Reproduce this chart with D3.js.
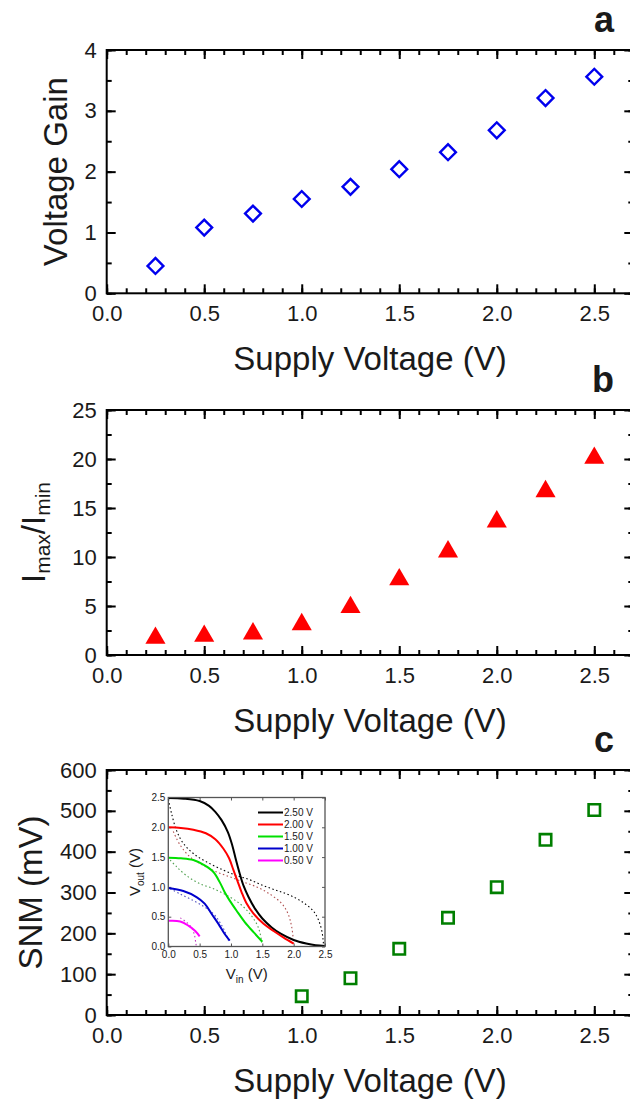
<!DOCTYPE html>
<html>
<head>
<meta charset="utf-8">
<script src="https://cdn.jsdelivr.net/npm/d3@7"></script>
<style>
body { margin: 0; background: #fff; }
text { font-family: "Liberation Sans", Arial, sans-serif; fill: #1a1a1a; }
</style>
</head>
<body>
<div id="chart"></div>
<script>
// supply voltage sweep (V)
var supplyV = [0.25, 0.5, 0.75, 1.0, 1.25, 1.5, 1.75, 2.0, 2.25, 2.5];
var voltageGain = [0.45, 1.08, 1.31, 1.55, 1.75, 2.04, 2.32, 2.68, 3.21, 3.56];
var currentRatio = [1.73, 1.94, 2.18, 3.12, 4.87, 7.7, 10.55, 13.6, 16.7, 20.1];
var snmSupply = [1.0, 1.25, 1.5, 1.75, 2.0, 2.25, 2.5];
var snm = [46, 90, 162, 238, 313, 429, 502];
var xTicks = [0, 0.5, 1.0, 1.5, 2.0, 2.5];

// inset: transfer curves [Vin, Vout] per supply
var vtcLabels = ["2.50 V", "2.00 V", "1.50 V", "1.00 V", "0.50 V"];
var vtc250 = [[0,2.49],[0.25,2.48],[0.5,2.44],[0.65,2.36],[0.75,2.26],[0.85,2.12],[0.95,1.92],[1.02,1.70],[1.08,1.45],[1.14,1.22],[1.2,1.02],[1.28,0.83],[1.38,0.64],[1.5,0.47],[1.65,0.32],[1.8,0.21],[2.0,0.11],[2.2,0.05],[2.35,0.02],[2.5,0.01]];
var vtc200 = [[0,2.0],[0.2,1.99],[0.4,1.96],[0.6,1.9],[0.75,1.8],[0.88,1.64],[0.97,1.48],[1.04,1.28],[1.1,1.11],[1.17,0.91],[1.25,0.72],[1.36,0.55],[1.52,0.38],[1.68,0.26],[1.84,0.15],[2.0,0.05]];
var vtc150 = [[0,1.49],[0.2,1.48],[0.4,1.45],[0.58,1.36],[0.72,1.25],[0.82,1.08],[0.9,0.91],[0.98,0.77],[1.09,0.6],[1.22,0.41],[1.36,0.24],[1.5,0.08]];
var vtc100 = [[0,0.98],[0.24,0.93],[0.45,0.83],[0.58,0.72],[0.69,0.55],[0.8,0.38],[0.9,0.21],[0.98,0.1]];
var vtc050 = [[0,0.43],[0.19,0.42],[0.32,0.35],[0.43,0.26],[0.5,0.17]];
// mirrored (dotted) curves
var mir250 = [[0,2.47],[0.05,2.24],[0.13,1.95],[0.24,1.73],[0.4,1.56],[0.61,1.42],[0.88,1.28],[1.09,1.19],[1.3,1.12],[1.52,1.02],[1.73,0.94],[1.94,0.86],[2.15,0.74],[2.31,0.6],[2.39,0.46],[2.45,0.26],[2.47,0.1],[2.48,0]];
var mir200 = [[0.08,1.93],[0.19,1.7],[0.35,1.5],[0.56,1.36],[0.77,1.25],[0.98,1.17],[1.2,1.08],[1.41,1.0],[1.62,0.88],[1.81,0.72],[1.91,0.55],[1.97,0.32],[2.0,0.05]];
var mir150 = [[0.03,1.45],[0.13,1.34],[0.29,1.19],[0.51,1.05],[0.72,0.97],[0.93,0.86],[1.14,0.72],[1.3,0.55],[1.41,0.38],[1.46,0.24],[1.49,0.07]];
var mir100 = [[0.03,0.97],[0.19,0.88],[0.4,0.77],[0.58,0.66],[0.72,0.55],[0.82,0.41],[0.9,0.26],[0.96,0.1]];
var mir050 = [[0.19,0.48],[0.3,0.4],[0.38,0.3],[0.42,0.18],[0.44,0.05],[0.45,0]];

var width = 630, height = 1101;
var svg = d3.select("#chart").append("svg")
    .attr("width", width)
    .attr("height", height);

var x = d3.scaleLinear().domain([0, 2.7]).range([106.7, 633.3]);

function range(a, b, s) {
  var out = [];
  for (var v = a; v <= b + 1e-9; v += s) out.push(+v.toFixed(4));
  return out;
}

function styleAxis(g) {
  g.select(".domain").remove();
  g.selectAll("line").attr("stroke", "#000").attr("stroke-width", 2);
  g.selectAll("text").attr("font-size", 22).attr("fill", "#1a1a1a")
    .style("font-family", "'Liberation Sans', Arial, sans-serif");
}

function panel(top, bottom, yMax, yStep, letter) {
  var y = d3.scaleLinear().domain([0, yMax]).range([bottom, top]);
  var g = svg.append("g");
  var fmtX = function(d) { return d.toFixed(1); };

  g.append("g").attr("transform", "translate(0," + bottom + ")")
    .call(d3.axisBottom(x).tickValues(range(0, 2.7, 0.1)).tickSize(-5).tickFormat(""))
    .call(styleAxis);
  g.append("g").attr("transform", "translate(0," + bottom + ")")
    .call(d3.axisBottom(x).tickValues(xTicks).tickSize(-9).tickPadding(12).tickFormat(fmtX))
    .call(styleAxis);
  g.append("g").attr("transform", "translate(0," + top + ")")
    .call(d3.axisTop(x).tickValues(range(0, 2.7, 0.1)).tickSize(-5).tickFormat(""))
    .call(styleAxis);
  g.append("g").attr("transform", "translate(0," + top + ")")
    .call(d3.axisTop(x).tickValues(xTicks).tickSize(-9).tickFormat(""))
    .call(styleAxis);

  g.append("g").attr("transform", "translate(" + x(0) + ",0)")
    .call(d3.axisLeft(y).tickValues(range(0, yMax, yStep / 2)).tickSize(-5).tickFormat(""))
    .call(styleAxis);
  g.append("g").attr("transform", "translate(" + x(0) + ",0)")
    .call(d3.axisLeft(y).tickValues(range(0, yMax, yStep)).tickSize(-9).tickPadding(10).tickFormat(d3.format("d")))
    .call(styleAxis);
  g.append("g").attr("transform", "translate(" + x(2.7) + ",0)")
    .call(d3.axisRight(y).tickValues(range(0, yMax, yStep / 2)).tickSize(-5).tickFormat(""))
    .call(styleAxis);
  g.append("g").attr("transform", "translate(" + x(2.7) + ",0)")
    .call(d3.axisRight(y).tickValues(range(0, yMax, yStep)).tickSize(-9).tickFormat(""))
    .call(styleAxis);

  g.append("rect")
    .attr("x", x(0)).attr("y", top)
    .attr("width", x(2.7) - x(0)).attr("height", bottom - top)
    .attr("fill", "none").attr("stroke", "#000").attr("stroke-width", 2);

  g.append("text")
    .attr("x", (x(0) + x(2.7)) / 2).attr("y", bottom + 77)
    .attr("text-anchor", "middle").attr("font-size", 33)
    .text("Supply Voltage (V)");

  g.append("text")
    .attr("x", 614).attr("y", top - 18)
    .attr("text-anchor", "end").attr("font-size", 36).attr("font-weight", "bold")
    .attr("fill", "#000")
    .text(letter);

  return { g: g, y: y, top: top, bottom: bottom };
}

// ---- panel a ----
var pa = panel(50, 293.3, 4, 1, "a");
pa.g.append("text")
  .attr("transform", "translate(67," + (50 + 293.3) / 2 + ") rotate(-90)")
  .attr("text-anchor", "middle").attr("font-size", 33)
  .text("Voltage Gain");
pa.g.selectAll(".gain")
    .data(supplyV)
  .enter().append("path")
    .attr("class", "gain")
    .attr("d", d3.symbol().type(d3.symbolSquare).size(125))
    .attr("transform", function(d, i) { return "translate(" + x(d) + "," + pa.y(voltageGain[i]) + ") rotate(45)"; })
    .attr("fill", "none").attr("stroke", "#0000ee").attr("stroke-width", 2.4);

// ---- panel b ----
var pb = panel(410, 655, 25, 5, "b");
var tb = pb.g.append("text")
  .attr("transform", "translate(45," + (410 + 655) / 2 + ") rotate(-90)")
  .attr("text-anchor", "middle").attr("font-size", 33);
tb.append("tspan").text("I");
tb.append("tspan").attr("font-size", 21).attr("dy", 5).text("max");
tb.append("tspan").attr("dy", -5).text("/I");
tb.append("tspan").attr("font-size", 21).attr("dy", 5).text("min");
pb.g.selectAll(".ratio")
    .data(supplyV)
  .enter().append("path")
    .attr("class", "ratio")
    .attr("d", d3.symbol().type(d3.symbolTriangle).size(175))
    .attr("transform", function(d, i) { return "translate(" + x(d) + "," + pb.y(currentRatio[i]) + ")"; })
    .attr("fill", "#ff0000");

// ---- panel c ----
var pc = panel(770, 1015, 600, 100, "c");
pc.g.append("text")
  .attr("transform", "translate(42," + (770 + 1015) / 2 + ") rotate(-90)")
  .attr("text-anchor", "middle").attr("font-size", 33)
  .text("SNM (mV)");
pc.g.selectAll(".snm")
    .data(snmSupply)
  .enter().append("path")
    .attr("class", "snm")
    .attr("d", d3.symbol().type(d3.symbolSquare).size(130))
    .attr("transform", function(d, i) { return "translate(" + x(d) + "," + pc.y(snm[i]) + ")"; })
    .attr("fill", "#fff").attr("stroke", "#007f00").attr("stroke-width", 2.6);

// ---- inset ----
var xi = d3.scaleLinear().domain([0, 2.5]).range([168.3, 325]);
var yi = d3.scaleLinear().domain([0, 2.5]).range([946.5, 797.5]);
var inset = svg.append("g");
inset.append("rect")
  .attr("x", xi(0)).attr("y", yi(2.5))
  .attr("width", xi(2.5) - xi(0)).attr("height", yi(0) - yi(2.5))
  .attr("fill", "#fff");

var iTicks = [0, 0.5, 1.0, 1.5, 2.0, 2.5];
function styleInset(g) {
  g.select(".domain").remove();
  g.selectAll("line").attr("stroke", "#555").attr("stroke-width", 1);
  g.selectAll("text").attr("font-size", 10).attr("fill", "#333")
    .style("font-family", "'Liberation Sans', Arial, sans-serif");
}
inset.append("g").attr("transform", "translate(0," + yi(0) + ")")
  .call(d3.axisBottom(xi).tickValues(iTicks).tickSize(-3).tickPadding(4).tickFormat(function(d) { return d.toFixed(1); }))
  .call(styleInset);
inset.append("g").attr("transform", "translate(0," + yi(2.5) + ")")
  .call(d3.axisTop(xi).tickValues(iTicks).tickSize(-3).tickFormat(""))
  .call(styleInset);
inset.append("g").attr("transform", "translate(" + xi(0) + ",0)")
  .call(d3.axisLeft(yi).tickValues(iTicks).tickSize(-3).tickPadding(3).tickFormat(function(d) { return d.toFixed(1); }))
  .call(styleInset);
inset.append("g").attr("transform", "translate(" + xi(2.5) + ",0)")
  .call(d3.axisRight(yi).tickValues(iTicks).tickSize(-3).tickFormat(""))
  .call(styleInset);

var line = d3.line()
    .x(function(d) { return xi(d[0]); })
    .y(function(d) { return yi(d[1]); })
    .curve(d3.curveCatmullRom);

var dotted = [mir250, mir200, mir150, mir100, mir050];
var dottedColors = ["#000000", "#b05050", "#4fa04f", "#5050c0", "#c040c0"];
var solid = [vtc250, vtc200, vtc150, vtc100, vtc050];
var solidColors = ["#000000", "#ff0000", "#00e000", "#0000cc", "#ff00ff"];

inset.selectAll(".mir")
    .data(dotted)
  .enter().append("path")
    .attr("class", "mir")
    .attr("d", line)
    .attr("fill", "none")
    .attr("stroke", function(d, i) { return dottedColors[i]; })
    .attr("stroke-width", 1.1)
    .attr("stroke-dasharray", "1.5,2.5");

inset.selectAll(".vtc")
    .data(solid)
  .enter().append("path")
    .attr("class", "vtc")
    .attr("d", line)
    .attr("fill", "none")
    .attr("stroke", function(d, i) { return solidColors[i]; })
    .attr("stroke-width", 2);

inset.append("rect")
  .attr("x", xi(0)).attr("y", yi(2.5))
  .attr("width", xi(2.5) - xi(0)).attr("height", yi(0) - yi(2.5))
  .attr("fill", "none").attr("stroke", "#555").attr("stroke-width", 1.3);

// legend
var leg = inset.selectAll(".leg")
    .data(vtcLabels)
  .enter().append("g")
    .attr("class", "leg")
    .attr("transform", function(d, i) { return "translate(258," + (812.5 + i * 12) + ")"; });
leg.append("line")
  .attr("x1", 0).attr("x2", 25)
  .attr("stroke", function(d, i) { return solidColors[i]; })
  .attr("stroke-width", 2);
leg.append("text")
  .attr("x", 26).attr("dy", "0.35em")
  .attr("font-size", 10).attr("fill", "#333")
  .text(function(d) { return d; });

// inset axis titles
var tin = inset.append("text")
  .attr("x", (xi(0) + xi(2.5)) / 2).attr("y", 979)
  .attr("text-anchor", "middle").attr("font-size", 15).attr("fill", "#333");
tin.append("tspan").text("V");
tin.append("tspan").attr("font-size", 10).attr("dy", 4).text("in");
tin.append("tspan").attr("dy", -4).text(" (V)");

var tout = inset.append("text")
  .attr("transform", "translate(140," + (yi(0) + yi(2.5)) / 2 + ") rotate(-90)")
  .attr("text-anchor", "middle").attr("font-size", 15).attr("fill", "#333");
tout.append("tspan").text("V");
tout.append("tspan").attr("font-size", 10).attr("dy", 4).text("out");
tout.append("tspan").attr("dy", -4).text(" (V)");
</script>
</body>
</html>
